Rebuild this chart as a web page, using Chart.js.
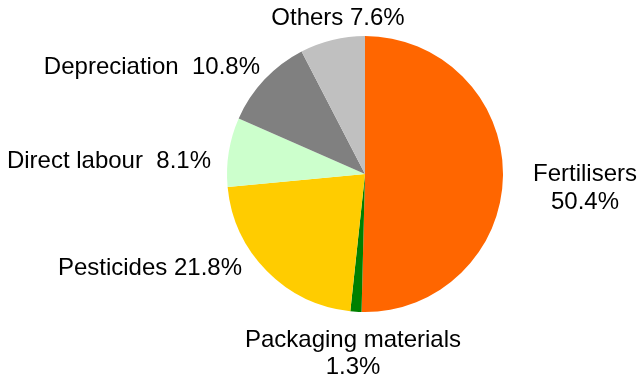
<!DOCTYPE html>
<html><head><meta charset="utf-8">
<script src="https://cdn.jsdelivr.net/npm/chart.js@4"></script>
<style>html,body{margin:0;padding:0;background:#fff}#w{width:640px;height:377px}</style>
</head><body><div id="w"><canvas id="c"></canvas></div>
<script>
const categories = ["Fertilisers","Packaging materials","Pesticides","Direct labour","Depreciation","Others"];
const values = [50.4, 1.3, 21.8, 8.1, 10.8, 7.6];
const labelLines = [["Fertilisers","50.4%"],["Packaging materials","1.3%"],["Pesticides 21.8%"],["Direct labour  8.1%"],["Depreciation  10.8%"],["Others 7.6%"]];
const colors = ["#FF6600","#008000","#FFCC00","#CCFFCC","#808080","#C0C0C0"];
// label anchor positions (layout only)
const labelPos = [
  {x:585,y:181,align:"center",lh:28},
  {x:353,y:347,align:"center",lh:27},
  {x:242,y:275,align:"right",lh:0},
  {x:211,y:168,align:"right",lh:0},
  {x:260,y:74,align:"right",lh:0},
  {x:338,y:25,align:"center",lh:0}
];
const labelPlugin = {
  id:"lbl",
  afterDraw(chart){
    const ctx = chart.ctx;
    ctx.save();
    ctx.font = "24px 'Liberation Sans', Arial, sans-serif";
    ctx.fillStyle = "#000";
    ctx.textBaseline = "alphabetic";
    labelLines.forEach((lines,i)=>{
      const p = labelPos[i];
      ctx.textAlign = p.align;
      lines.forEach((t,j)=>ctx.fillText(t,p.x,p.y+j*p.lh));
    });
    ctx.restore();
  }
};
new Chart(document.getElementById("c"),{
  type:"pie",
  data:{labels:categories,datasets:[{data:values,backgroundColor:colors,borderWidth:0}]},
  options:{
    responsive:true,maintainAspectRatio:false,animation:false,
    layout:{padding:{top:36,bottom:65,left:227,right:137}},
    plugins:{legend:{display:false},tooltip:{enabled:false}}
  },
  plugins:[labelPlugin]
});
</script></body></html>
